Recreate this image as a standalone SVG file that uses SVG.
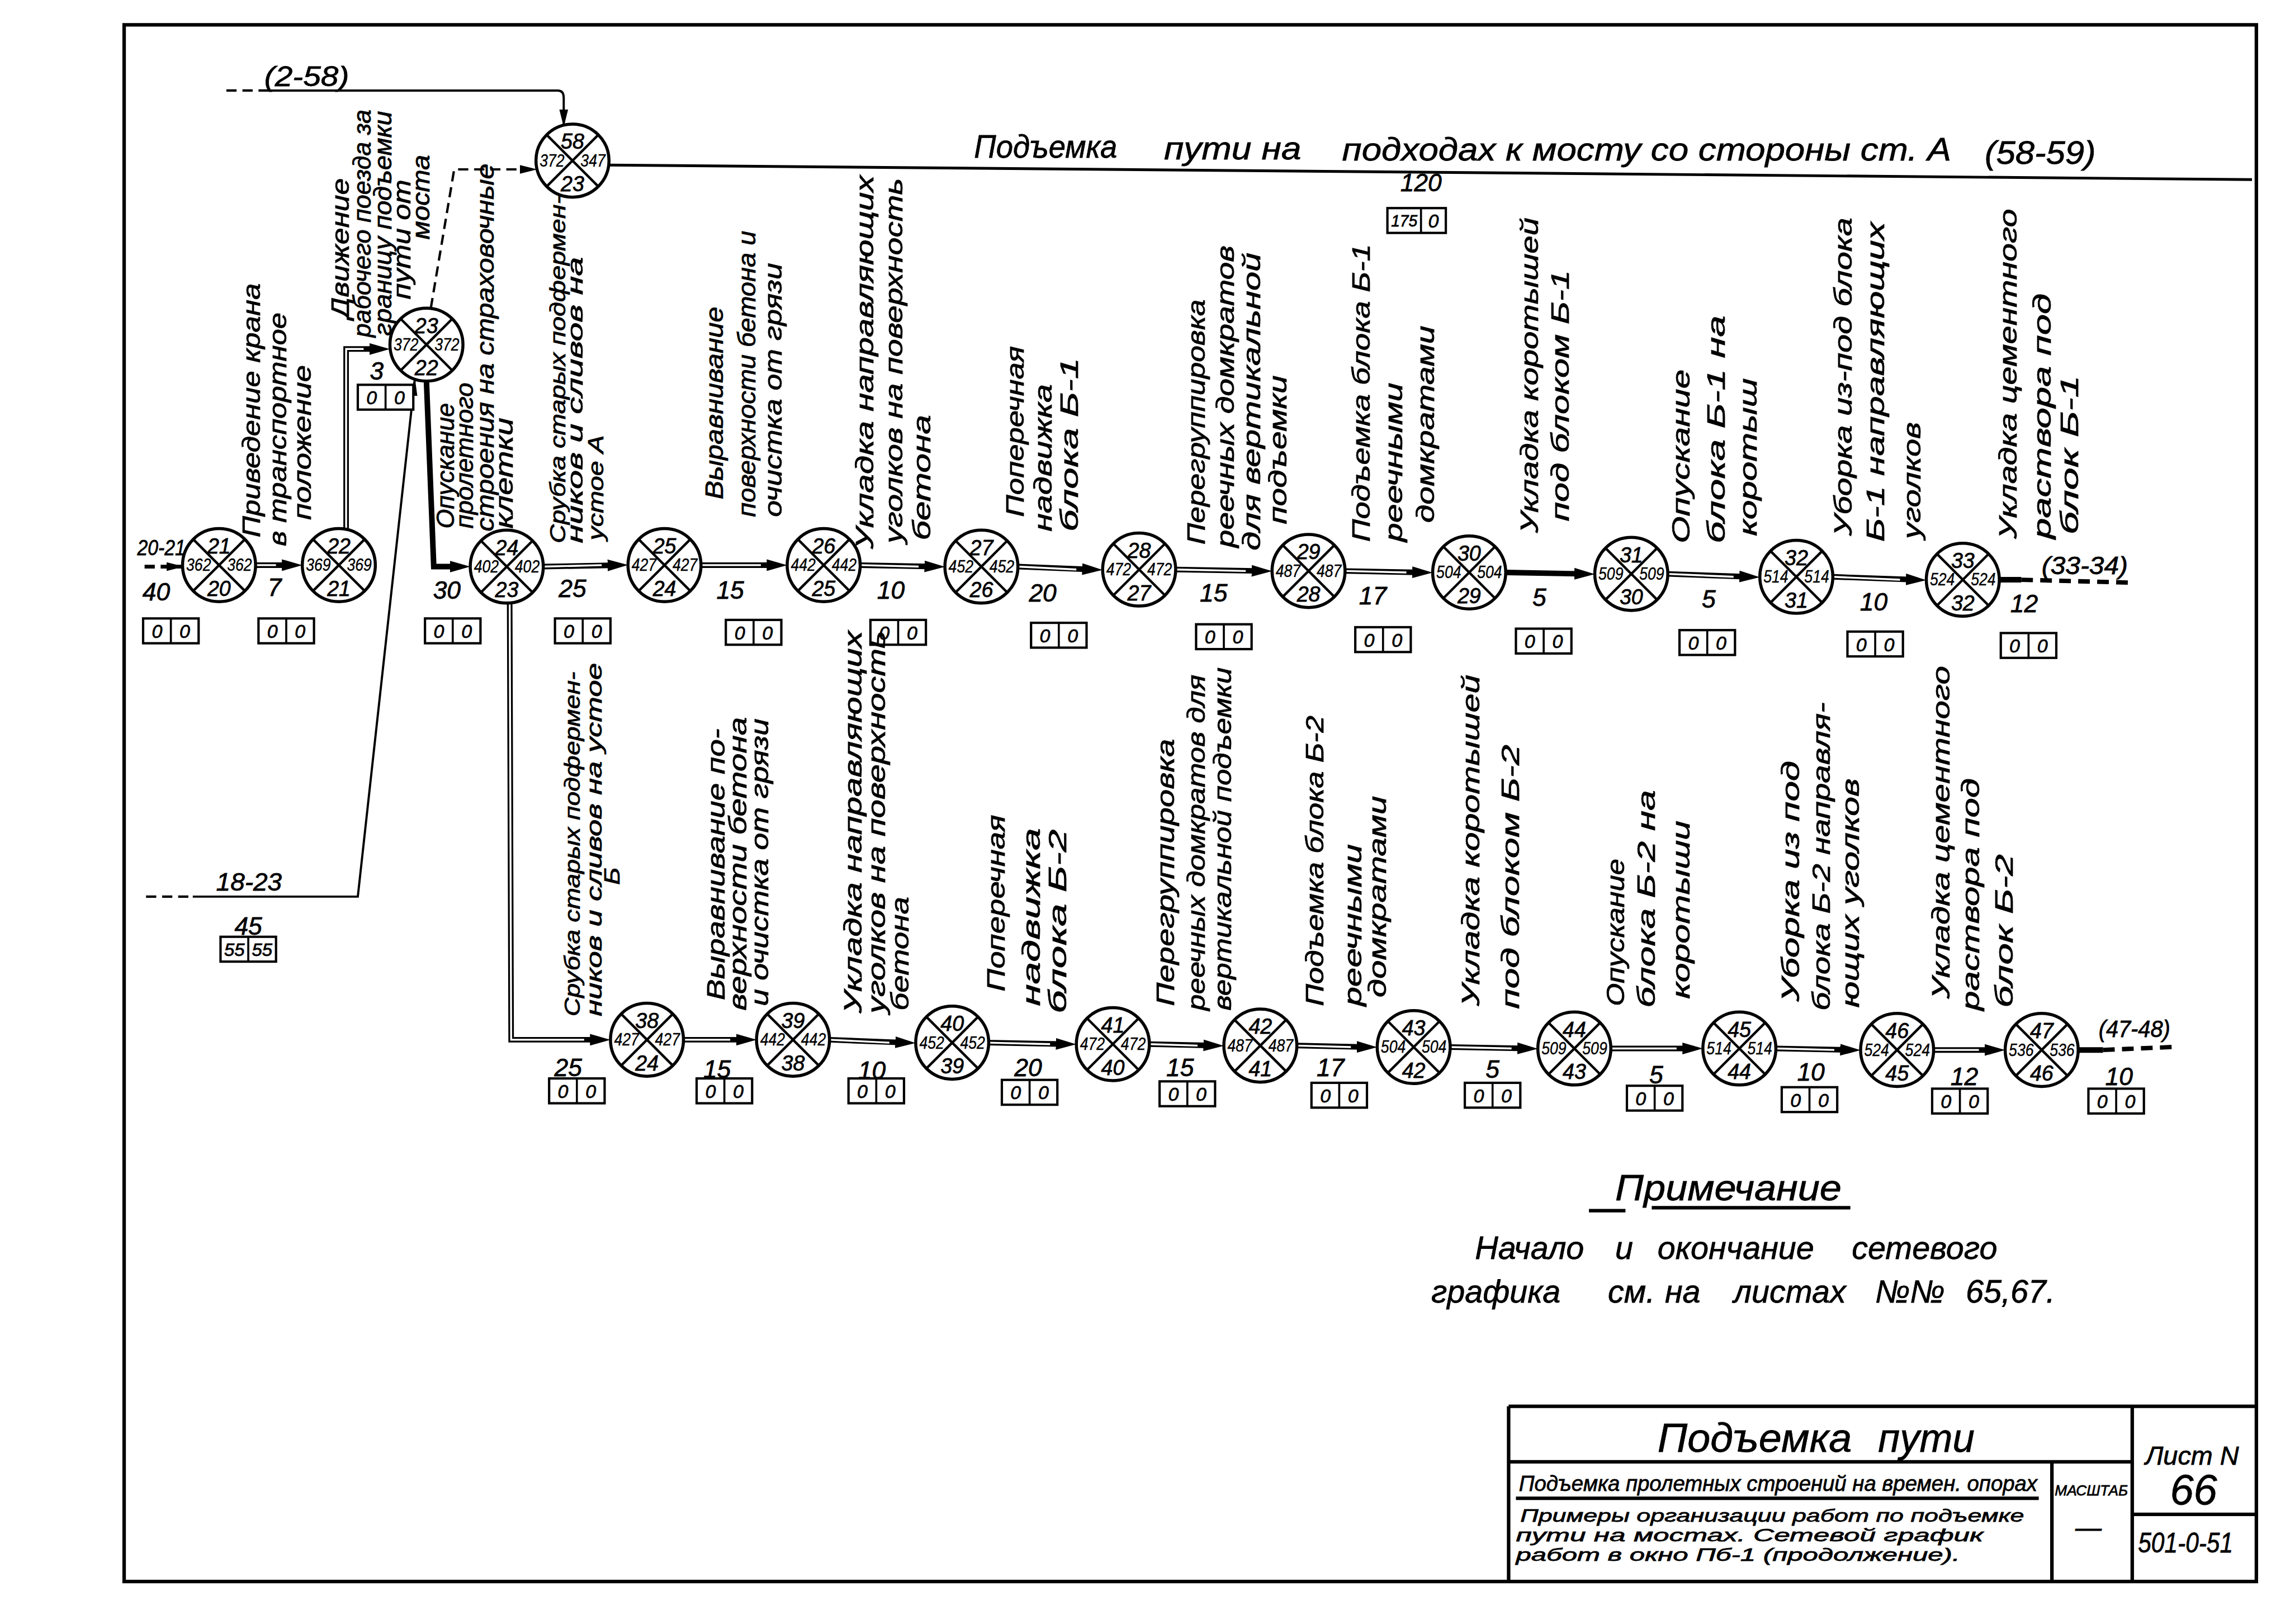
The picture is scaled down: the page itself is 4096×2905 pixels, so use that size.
<svg xmlns="http://www.w3.org/2000/svg" width="4096" height="2905" viewBox="0 0 4096 2905">
<defs>
<style>
.t{font-family:"Liberation Sans","DejaVu Sans",sans-serif;font-style:italic;fill:#000;stroke:#000;stroke-width:0.3}
.v{font-size:17px}
.v15{font-size:15px}
.n{font-size:15px;text-anchor:middle}
.ns{font-size:12px;text-anchor:middle;stroke-width:0.15}
.d{font-size:17px;text-anchor:middle}
.bx{font-size:13px;text-anchor:middle}
.node circle{fill:#fff;stroke:#000;stroke-width:2.1}
.node path{stroke:#000;stroke-width:1.7;fill:none}
.ln{fill:none;stroke:#000;stroke-width:1.5}
.lna{fill:none;stroke:#000;stroke-width:1.5;marker-end:url(#ahs)}
.dbl{fill:none;stroke:#000;stroke-width:3.8;marker-end:url(#ah)}
.dblw{fill:none;stroke:#fff;stroke-width:1.3}
.dash{fill:none;stroke:#000;stroke-width:1.6;stroke-dasharray:7 4}
.dasha{fill:none;stroke:#000;stroke-width:1.6;stroke-dasharray:7 4;marker-end:url(#ahs)}
.dashk{fill:none;stroke:#000;stroke-width:3;stroke-dasharray:8 5}
.box rect{fill:#fff;stroke:#000;stroke-width:1.6}
.box path{stroke:#000;stroke-width:1.4}
.frame{fill:none;stroke:#000;stroke-width:2.4}
</style>
<marker id="ah" markerUnits="userSpaceOnUse" viewBox="0 0 14 8" markerWidth="14" markerHeight="8" refX="7" refY="4" orient="auto"><path d="M0,0 L14,4 L0,8 Z" fill="#000"/></marker>
<marker id="ahs" markerUnits="userSpaceOnUse" viewBox="0 0 12 6" markerWidth="12" markerHeight="6" refX="11" refY="3" orient="auto"><path d="M0,0 L12,3 L0,6 Z" fill="#000"/></marker>
</defs>
<rect width="4096" height="2905" fill="#fff"/>
<g transform="scale(2.6122)">
<rect class="frame" x="85" y="17" width="1460" height="1066"/>

<g id="connectors">
<path class="dasha" d="M99,388 L125,388" style="stroke-width:2.6"/>
<path class="dbl" d="M175,387 L200,387"/><path class="dblw" d="M175,387 L189,387"/>
<path class="dbl" d="M237,363 L237,239 L260,239"/><path class="dblw" d="M237,363 L237,239 L249,239"/>
<path class="dbl" d="M292,261 L297,388 L315,388"/>
<path class="dash" d="M100,614 L132,614"/>
<path class="lna" d="M132,614 L245,614 L284,260"/>
<path class="dasha" d="M295,211 L311,116 L367,116"/>
<path class="dash" d="M155,62 L183,62"/>
<path class="lna" d="M183,62 L382,62 Q386,62 386,67 L386,86"/>
<path class="ln" d="M417,113 L1542,123" style="stroke-width:1.9"/>
<path class="dbl" d="M372,388 L423,387"/><path class="dblw" d="M372,388 L412,387"/>
<path class="dbl" d="M480,387 L532,387"/><path class="dblw" d="M480,387 L521,387"/>
<path class="dbl" d="M589,387 L640,388"/><path class="dblw" d="M589,387 L629,388"/>
<path class="dbl" d="M697,388 L748,390"/><path class="dblw" d="M697,388 L737,390"/>
<path class="dbl" d="M805,390 L864,391"/><path class="dblw" d="M805,390 L853,391"/>
<path class="dbl" d="M921,391 L974,392"/><path class="dblw" d="M921,391 L963,392"/>
<path class="dbl" d="M1031,392 L1085,393"/>
<path class="dbl" d="M1142,393 L1198,395"/><path class="dblw" d="M1142,393 L1187,395"/>
<path class="dbl" d="M1255,395 L1312,397"/><path class="dblw" d="M1255,395 L1301,397"/>
<path class="ln" d="M1369,397 L1384,397" style="stroke-width:3.8"/>
<path class="dashk" d="M1384,397 L1460,399"/>
<path class="dbl" d="M349,413 L350,712 L411,712"/><path class="dblw" d="M349,413 L350,712 L400,712"/>
<path class="dbl" d="M468,712 L511,712"/><path class="dblw" d="M468,712 L500,712"/>
<path class="dbl" d="M568,712 L620,714"/><path class="dblw" d="M568,712 L609,714"/>
<path class="dbl" d="M677,714 L730,715"/><path class="dblw" d="M677,714 L719,715"/>
<path class="dbl" d="M787,715 L831,716"/><path class="dblw" d="M787,715 L820,716"/>
<path class="dbl" d="M888,716 L936,717"/><path class="dblw" d="M888,716 L925,717"/>
<path class="dbl" d="M993,717 L1046,718"/><path class="dblw" d="M993,717 L1035,718"/>
<path class="dbl" d="M1103,718 L1159,718"/><path class="dblw" d="M1103,718 L1148,718"/>
<path class="dbl" d="M1216,718 L1267,719"/><path class="dblw" d="M1216,718 L1256,719"/>
<path class="dbl" d="M1324,719 L1366,719"/><path class="dblw" d="M1324,719 L1355,719"/>
<path class="ln" d="M1423,719 L1440,719" style="stroke-width:3.8"/>
<path class="dashk" d="M1440,719 L1487,717"/>
</g>

<g id="node-58" class="node"><circle cx="392" cy="110" r="25"/><path d="M374.3,92.3 L409.7,127.7 M409.7,92.3 L374.3,127.7"/><text class="t n" x="392" y="102" textLength="16" lengthAdjust="spacingAndGlyphs">58</text><text class="t n" x="392" y="131" textLength="16" lengthAdjust="spacingAndGlyphs">23</text><text class="t ns" x="378" y="114" textLength="17" lengthAdjust="spacingAndGlyphs">372</text><text class="t ns" x="406" y="114" textLength="17" lengthAdjust="spacingAndGlyphs">347</text></g>
<g id="node-21" class="node"><circle cx="150" cy="387" r="25"/><path d="M132.3,369.3 L167.7,404.7 M167.7,369.3 L132.3,404.7"/><text class="t n" x="150" y="379" textLength="16" lengthAdjust="spacingAndGlyphs">21</text><text class="t n" x="150" y="408" textLength="16" lengthAdjust="spacingAndGlyphs">20</text><text class="t ns" x="136" y="391" textLength="17" lengthAdjust="spacingAndGlyphs">362</text><text class="t ns" x="164" y="391" textLength="17" lengthAdjust="spacingAndGlyphs">362</text></g>
<g id="node-22" class="node"><circle cx="232" cy="387" r="25"/><path d="M214.3,369.3 L249.7,404.7 M249.7,369.3 L214.3,404.7"/><text class="t n" x="232" y="379" textLength="16" lengthAdjust="spacingAndGlyphs">22</text><text class="t n" x="232" y="408" textLength="16" lengthAdjust="spacingAndGlyphs">21</text><text class="t ns" x="218" y="391" textLength="17" lengthAdjust="spacingAndGlyphs">369</text><text class="t ns" x="246" y="391" textLength="17" lengthAdjust="spacingAndGlyphs">369</text></g>
<g id="node-23" class="node"><circle cx="292" cy="236" r="25"/><path d="M274.3,218.3 L309.7,253.7 M309.7,218.3 L274.3,253.7"/><text class="t n" x="292" y="228" textLength="16" lengthAdjust="spacingAndGlyphs">23</text><text class="t n" x="292" y="257" textLength="16" lengthAdjust="spacingAndGlyphs">22</text><text class="t ns" x="278" y="240" textLength="17" lengthAdjust="spacingAndGlyphs">372</text><text class="t ns" x="306" y="240" textLength="17" lengthAdjust="spacingAndGlyphs">372</text></g>
<g id="node-24" class="node"><circle cx="347" cy="388" r="25"/><path d="M329.3,370.3 L364.7,405.7 M364.7,370.3 L329.3,405.7"/><text class="t n" x="347" y="380" textLength="16" lengthAdjust="spacingAndGlyphs">24</text><text class="t n" x="347" y="409" textLength="16" lengthAdjust="spacingAndGlyphs">23</text><text class="t ns" x="333" y="392" textLength="17" lengthAdjust="spacingAndGlyphs">402</text><text class="t ns" x="361" y="392" textLength="17" lengthAdjust="spacingAndGlyphs">402</text></g>
<g id="node-25" class="node"><circle cx="455" cy="387" r="25"/><path d="M437.3,369.3 L472.7,404.7 M472.7,369.3 L437.3,404.7"/><text class="t n" x="455" y="379" textLength="16" lengthAdjust="spacingAndGlyphs">25</text><text class="t n" x="455" y="408" textLength="16" lengthAdjust="spacingAndGlyphs">24</text><text class="t ns" x="441" y="391" textLength="17" lengthAdjust="spacingAndGlyphs">427</text><text class="t ns" x="469" y="391" textLength="17" lengthAdjust="spacingAndGlyphs">427</text></g>
<g id="node-26" class="node"><circle cx="564" cy="387" r="25"/><path d="M546.3,369.3 L581.7,404.7 M581.7,369.3 L546.3,404.7"/><text class="t n" x="564" y="379" textLength="16" lengthAdjust="spacingAndGlyphs">26</text><text class="t n" x="564" y="408" textLength="16" lengthAdjust="spacingAndGlyphs">25</text><text class="t ns" x="550" y="391" textLength="17" lengthAdjust="spacingAndGlyphs">442</text><text class="t ns" x="578" y="391" textLength="17" lengthAdjust="spacingAndGlyphs">442</text></g>
<g id="node-27" class="node"><circle cx="672" cy="388" r="25"/><path d="M654.3,370.3 L689.7,405.7 M689.7,370.3 L654.3,405.7"/><text class="t n" x="672" y="380" textLength="16" lengthAdjust="spacingAndGlyphs">27</text><text class="t n" x="672" y="409" textLength="16" lengthAdjust="spacingAndGlyphs">26</text><text class="t ns" x="658" y="392" textLength="17" lengthAdjust="spacingAndGlyphs">452</text><text class="t ns" x="686" y="392" textLength="17" lengthAdjust="spacingAndGlyphs">452</text></g>
<g id="node-28" class="node"><circle cx="780" cy="390" r="25"/><path d="M762.3,372.3 L797.7,407.7 M797.7,372.3 L762.3,407.7"/><text class="t n" x="780" y="382" textLength="16" lengthAdjust="spacingAndGlyphs">28</text><text class="t n" x="780" y="411" textLength="16" lengthAdjust="spacingAndGlyphs">27</text><text class="t ns" x="766" y="394" textLength="17" lengthAdjust="spacingAndGlyphs">472</text><text class="t ns" x="794" y="394" textLength="17" lengthAdjust="spacingAndGlyphs">472</text></g>
<g id="node-29" class="node"><circle cx="896" cy="391" r="25"/><path d="M878.3,373.3 L913.7,408.7 M913.7,373.3 L878.3,408.7"/><text class="t n" x="896" y="383" textLength="16" lengthAdjust="spacingAndGlyphs">29</text><text class="t n" x="896" y="412" textLength="16" lengthAdjust="spacingAndGlyphs">28</text><text class="t ns" x="882" y="395" textLength="17" lengthAdjust="spacingAndGlyphs">487</text><text class="t ns" x="910" y="395" textLength="17" lengthAdjust="spacingAndGlyphs">487</text></g>
<g id="node-30" class="node"><circle cx="1006" cy="392" r="25"/><path d="M988.3,374.3 L1023.7,409.7 M1023.7,374.3 L988.3,409.7"/><text class="t n" x="1006" y="384" textLength="16" lengthAdjust="spacingAndGlyphs">30</text><text class="t n" x="1006" y="413" textLength="16" lengthAdjust="spacingAndGlyphs">29</text><text class="t ns" x="992" y="396" textLength="17" lengthAdjust="spacingAndGlyphs">504</text><text class="t ns" x="1020" y="396" textLength="17" lengthAdjust="spacingAndGlyphs">504</text></g>
<g id="node-31" class="node"><circle cx="1117" cy="393" r="25"/><path d="M1099.3,375.3 L1134.7,410.7 M1134.7,375.3 L1099.3,410.7"/><text class="t n" x="1117" y="385" textLength="16" lengthAdjust="spacingAndGlyphs">31</text><text class="t n" x="1117" y="414" textLength="16" lengthAdjust="spacingAndGlyphs">30</text><text class="t ns" x="1103" y="397" textLength="17" lengthAdjust="spacingAndGlyphs">509</text><text class="t ns" x="1131" y="397" textLength="17" lengthAdjust="spacingAndGlyphs">509</text></g>
<g id="node-32" class="node"><circle cx="1230" cy="395" r="25"/><path d="M1212.3,377.3 L1247.7,412.7 M1247.7,377.3 L1212.3,412.7"/><text class="t n" x="1230" y="387" textLength="16" lengthAdjust="spacingAndGlyphs">32</text><text class="t n" x="1230" y="416" textLength="16" lengthAdjust="spacingAndGlyphs">31</text><text class="t ns" x="1216" y="399" textLength="17" lengthAdjust="spacingAndGlyphs">514</text><text class="t ns" x="1244" y="399" textLength="17" lengthAdjust="spacingAndGlyphs">514</text></g>
<g id="node-33" class="node"><circle cx="1344" cy="397" r="25"/><path d="M1326.3,379.3 L1361.7,414.7 M1361.7,379.3 L1326.3,414.7"/><text class="t n" x="1344" y="389" textLength="16" lengthAdjust="spacingAndGlyphs">33</text><text class="t n" x="1344" y="418" textLength="16" lengthAdjust="spacingAndGlyphs">32</text><text class="t ns" x="1330" y="401" textLength="17" lengthAdjust="spacingAndGlyphs">524</text><text class="t ns" x="1358" y="401" textLength="17" lengthAdjust="spacingAndGlyphs">524</text></g>
<g id="node-38" class="node"><circle cx="443" cy="712" r="25"/><path d="M425.3,694.3 L460.7,729.7 M460.7,694.3 L425.3,729.7"/><text class="t n" x="443" y="704" textLength="16" lengthAdjust="spacingAndGlyphs">38</text><text class="t n" x="443" y="733" textLength="16" lengthAdjust="spacingAndGlyphs">24</text><text class="t ns" x="429" y="716" textLength="17" lengthAdjust="spacingAndGlyphs">427</text><text class="t ns" x="457" y="716" textLength="17" lengthAdjust="spacingAndGlyphs">427</text></g>
<g id="node-39" class="node"><circle cx="543" cy="712" r="25"/><path d="M525.3,694.3 L560.7,729.7 M560.7,694.3 L525.3,729.7"/><text class="t n" x="543" y="704" textLength="16" lengthAdjust="spacingAndGlyphs">39</text><text class="t n" x="543" y="733" textLength="16" lengthAdjust="spacingAndGlyphs">38</text><text class="t ns" x="529" y="716" textLength="17" lengthAdjust="spacingAndGlyphs">442</text><text class="t ns" x="557" y="716" textLength="17" lengthAdjust="spacingAndGlyphs">442</text></g>
<g id="node-40" class="node"><circle cx="652" cy="714" r="25"/><path d="M634.3,696.3 L669.7,731.7 M669.7,696.3 L634.3,731.7"/><text class="t n" x="652" y="706" textLength="16" lengthAdjust="spacingAndGlyphs">40</text><text class="t n" x="652" y="735" textLength="16" lengthAdjust="spacingAndGlyphs">39</text><text class="t ns" x="638" y="718" textLength="17" lengthAdjust="spacingAndGlyphs">452</text><text class="t ns" x="666" y="718" textLength="17" lengthAdjust="spacingAndGlyphs">452</text></g>
<g id="node-41" class="node"><circle cx="762" cy="715" r="25"/><path d="M744.3,697.3 L779.7,732.7 M779.7,697.3 L744.3,732.7"/><text class="t n" x="762" y="707" textLength="16" lengthAdjust="spacingAndGlyphs">41</text><text class="t n" x="762" y="736" textLength="16" lengthAdjust="spacingAndGlyphs">40</text><text class="t ns" x="748" y="719" textLength="17" lengthAdjust="spacingAndGlyphs">472</text><text class="t ns" x="776" y="719" textLength="17" lengthAdjust="spacingAndGlyphs">472</text></g>
<g id="node-42" class="node"><circle cx="863" cy="716" r="25"/><path d="M845.3,698.3 L880.7,733.7 M880.7,698.3 L845.3,733.7"/><text class="t n" x="863" y="708" textLength="16" lengthAdjust="spacingAndGlyphs">42</text><text class="t n" x="863" y="737" textLength="16" lengthAdjust="spacingAndGlyphs">41</text><text class="t ns" x="849" y="720" textLength="17" lengthAdjust="spacingAndGlyphs">487</text><text class="t ns" x="877" y="720" textLength="17" lengthAdjust="spacingAndGlyphs">487</text></g>
<g id="node-43" class="node"><circle cx="968" cy="717" r="25"/><path d="M950.3,699.3 L985.7,734.7 M985.7,699.3 L950.3,734.7"/><text class="t n" x="968" y="709" textLength="16" lengthAdjust="spacingAndGlyphs">43</text><text class="t n" x="968" y="738" textLength="16" lengthAdjust="spacingAndGlyphs">42</text><text class="t ns" x="954" y="721" textLength="17" lengthAdjust="spacingAndGlyphs">504</text><text class="t ns" x="982" y="721" textLength="17" lengthAdjust="spacingAndGlyphs">504</text></g>
<g id="node-44" class="node"><circle cx="1078" cy="718" r="25"/><path d="M1060.3,700.3 L1095.7,735.7 M1095.7,700.3 L1060.3,735.7"/><text class="t n" x="1078" y="710" textLength="16" lengthAdjust="spacingAndGlyphs">44</text><text class="t n" x="1078" y="739" textLength="16" lengthAdjust="spacingAndGlyphs">43</text><text class="t ns" x="1064" y="722" textLength="17" lengthAdjust="spacingAndGlyphs">509</text><text class="t ns" x="1092" y="722" textLength="17" lengthAdjust="spacingAndGlyphs">509</text></g>
<g id="node-45" class="node"><circle cx="1191" cy="718" r="25"/><path d="M1173.3,700.3 L1208.7,735.7 M1208.7,700.3 L1173.3,735.7"/><text class="t n" x="1191" y="710" textLength="16" lengthAdjust="spacingAndGlyphs">45</text><text class="t n" x="1191" y="739" textLength="16" lengthAdjust="spacingAndGlyphs">44</text><text class="t ns" x="1177" y="722" textLength="17" lengthAdjust="spacingAndGlyphs">514</text><text class="t ns" x="1205" y="722" textLength="17" lengthAdjust="spacingAndGlyphs">514</text></g>
<g id="node-46" class="node"><circle cx="1299" cy="719" r="25"/><path d="M1281.3,701.3 L1316.7,736.7 M1316.7,701.3 L1281.3,736.7"/><text class="t n" x="1299" y="711" textLength="16" lengthAdjust="spacingAndGlyphs">46</text><text class="t n" x="1299" y="740" textLength="16" lengthAdjust="spacingAndGlyphs">45</text><text class="t ns" x="1285" y="723" textLength="17" lengthAdjust="spacingAndGlyphs">524</text><text class="t ns" x="1313" y="723" textLength="17" lengthAdjust="spacingAndGlyphs">524</text></g>
<g id="node-47" class="node"><circle cx="1398" cy="719" r="25"/><path d="M1380.3,701.3 L1415.7,736.7 M1415.7,701.3 L1380.3,736.7"/><text class="t n" x="1398" y="711" textLength="16" lengthAdjust="spacingAndGlyphs">47</text><text class="t n" x="1398" y="740" textLength="16" lengthAdjust="spacingAndGlyphs">46</text><text class="t ns" x="1384" y="723" textLength="17" lengthAdjust="spacingAndGlyphs">536</text><text class="t ns" x="1412" y="723" textLength="17" lengthAdjust="spacingAndGlyphs">536</text></g>

<g id="edge-labels">
<text class="t" x="94" y="380" style="font-size:15px" textLength="33" lengthAdjust="spacingAndGlyphs">20-21</text>
<text class="t" x="181" y="59" style="font-size:19px" textLength="58" lengthAdjust="spacingAndGlyphs">(2-58)</text>
<text class="t" x="148" y="610" style="font-size:17px" textLength="45" lengthAdjust="spacingAndGlyphs">18-23</text>
<text class="t" x="1398" y="393" style="font-size:17px" textLength="59" lengthAdjust="spacingAndGlyphs">(33-34)</text>
<text class="t" x="1437" y="710" style="font-size:16px" textLength="49" lengthAdjust="spacingAndGlyphs">(47-48)</text>
<text class="t" x="667" y="108" style="font-size:22px" textLength="98" lengthAdjust="spacingAndGlyphs">Подъемка</text>
<text class="t" x="797" y="109" style="font-size:22px" textLength="94" lengthAdjust="spacingAndGlyphs">пути на</text>
<text class="t" x="919" y="110" style="font-size:22px" textLength="417" lengthAdjust="spacingAndGlyphs">подходах к мосту со стороны ст. А</text>
<text class="t" x="1359" y="112" style="font-size:22px" textLength="76" lengthAdjust="spacingAndGlyphs">(58-59)</text>
<text class="t d" x="107" y="411">40</text>
<text class="t d" x="188" y="408">7</text>
<text class="t d" x="258" y="260">3</text>
<text class="t d" x="306" y="410">30</text>
<text class="t d" x="392" y="409">25</text>
<text class="t d" x="500" y="410">15</text>
<text class="t d" x="610" y="410">10</text>
<text class="t d" x="714" y="412">20</text>
<text class="t d" x="831" y="412">15</text>
<text class="t d" x="940" y="414">17</text>
<text class="t d" x="1054" y="415">5</text>
<text class="t d" x="1170" y="416">5</text>
<text class="t d" x="1283" y="418">10</text>
<text class="t d" x="1386" y="419">12</text>
<text class="t d" x="973" y="131">120</text>
<text class="t d" x="170" y="640">45</text>
<text class="t d" x="389" y="737">25</text>
<text class="t d" x="491" y="738">15</text>
<text class="t d" x="597" y="739">10</text>
<text class="t d" x="704" y="737">20</text>
<text class="t d" x="808" y="737">15</text>
<text class="t d" x="911" y="737">17</text>
<text class="t d" x="1022" y="738">5</text>
<text class="t d" x="1134" y="742">5</text>
<text class="t d" x="1240" y="740">10</text>
<text class="t d" x="1345" y="743">12</text>
<text class="t d" x="1451" y="743">10</text>
</g>

<g id="boxes">
<g class="box" transform="translate(117,432)"><rect x="-19" y="-8.5" width="38" height="17"/><path d="M0,-8.5 V8.5"/><text class="t bx" x="-9.5" y="4.8">0</text><text class="t bx" x="9.5" y="4.8">0</text></g>
<g class="box" transform="translate(196,432)"><rect x="-19" y="-8.5" width="38" height="17"/><path d="M0,-8.5 V8.5"/><text class="t bx" x="-9.5" y="4.8">0</text><text class="t bx" x="9.5" y="4.8">0</text></g>
<g class="box" transform="translate(264,272)"><rect x="-19" y="-8.5" width="38" height="17"/><path d="M0,-8.5 V8.5"/><text class="t bx" x="-9.5" y="4.8">0</text><text class="t bx" x="9.5" y="4.8">0</text></g>
<g class="box" transform="translate(310,432)"><rect x="-19" y="-8.5" width="38" height="17"/><path d="M0,-8.5 V8.5"/><text class="t bx" x="-9.5" y="4.8">0</text><text class="t bx" x="9.5" y="4.8">0</text></g>
<g class="box" transform="translate(399,432)"><rect x="-19" y="-8.5" width="38" height="17"/><path d="M0,-8.5 V8.5"/><text class="t bx" x="-9.5" y="4.8">0</text><text class="t bx" x="9.5" y="4.8">0</text></g>
<g class="box" transform="translate(516,433)"><rect x="-19" y="-8.5" width="38" height="17"/><path d="M0,-8.5 V8.5"/><text class="t bx" x="-9.5" y="4.8">0</text><text class="t bx" x="9.5" y="4.8">0</text></g>
<g class="box" transform="translate(615,433)"><rect x="-19" y="-8.5" width="38" height="17"/><path d="M0,-8.5 V8.5"/><text class="t bx" x="-9.5" y="4.8">0</text><text class="t bx" x="9.5" y="4.8">0</text></g>
<g class="box" transform="translate(725,435)"><rect x="-19" y="-8.5" width="38" height="17"/><path d="M0,-8.5 V8.5"/><text class="t bx" x="-9.5" y="4.8">0</text><text class="t bx" x="9.5" y="4.8">0</text></g>
<g class="box" transform="translate(838,436)"><rect x="-19" y="-8.5" width="38" height="17"/><path d="M0,-8.5 V8.5"/><text class="t bx" x="-9.5" y="4.8">0</text><text class="t bx" x="9.5" y="4.8">0</text></g>
<g class="box" transform="translate(947,438)"><rect x="-19" y="-8.5" width="38" height="17"/><path d="M0,-8.5 V8.5"/><text class="t bx" x="-9.5" y="4.8">0</text><text class="t bx" x="9.5" y="4.8">0</text></g>
<g class="box" transform="translate(1057,439)"><rect x="-19" y="-8.5" width="38" height="17"/><path d="M0,-8.5 V8.5"/><text class="t bx" x="-9.5" y="4.8">0</text><text class="t bx" x="9.5" y="4.8">0</text></g>
<g class="box" transform="translate(1169,440)"><rect x="-19" y="-8.5" width="38" height="17"/><path d="M0,-8.5 V8.5"/><text class="t bx" x="-9.5" y="4.8">0</text><text class="t bx" x="9.5" y="4.8">0</text></g>
<g class="box" transform="translate(1284,441)"><rect x="-19" y="-8.5" width="38" height="17"/><path d="M0,-8.5 V8.5"/><text class="t bx" x="-9.5" y="4.8">0</text><text class="t bx" x="9.5" y="4.8">0</text></g>
<g class="box" transform="translate(1389,442)"><rect x="-19" y="-8.5" width="38" height="17"/><path d="M0,-8.5 V8.5"/><text class="t bx" x="-9.5" y="4.8">0</text><text class="t bx" x="9.5" y="4.8">0</text></g>
<g class="box" transform="translate(970,151)"><rect x="-20" y="-8.5" width="40" height="17"/><path d="M3,-8.5 V8.5"/><text class="t bx" x="-8.5" y="4" style="font-size:11px" textLength="18" lengthAdjust="spacingAndGlyphs">175</text><text class="t bx" x="11.5" y="4.8">0</text></g>
<g class="box" transform="translate(170,650)"><rect x="-19" y="-8.5" width="38" height="17"/><path d="M0,-8.5 V8.5"/><text class="t bx" x="-9.5" y="4.5" style="font-size:12px" textLength="14" lengthAdjust="spacingAndGlyphs">55</text><text class="t bx" x="9.5" y="4.5" style="font-size:12px" textLength="14" lengthAdjust="spacingAndGlyphs">55</text></g>
<g class="box" transform="translate(395,747)"><rect x="-19" y="-8.5" width="38" height="17"/><path d="M0,-8.5 V8.5"/><text class="t bx" x="-9.5" y="4.8">0</text><text class="t bx" x="9.5" y="4.8">0</text></g>
<g class="box" transform="translate(496,747)"><rect x="-19" y="-8.5" width="38" height="17"/><path d="M0,-8.5 V8.5"/><text class="t bx" x="-9.5" y="4.8">0</text><text class="t bx" x="9.5" y="4.8">0</text></g>
<g class="box" transform="translate(600,747)"><rect x="-19" y="-8.5" width="38" height="17"/><path d="M0,-8.5 V8.5"/><text class="t bx" x="-9.5" y="4.8">0</text><text class="t bx" x="9.5" y="4.8">0</text></g>
<g class="box" transform="translate(705,748)"><rect x="-19" y="-8.5" width="38" height="17"/><path d="M0,-8.5 V8.5"/><text class="t bx" x="-9.5" y="4.8">0</text><text class="t bx" x="9.5" y="4.8">0</text></g>
<g class="box" transform="translate(813,749)"><rect x="-19" y="-8.5" width="38" height="17"/><path d="M0,-8.5 V8.5"/><text class="t bx" x="-9.5" y="4.8">0</text><text class="t bx" x="9.5" y="4.8">0</text></g>
<g class="box" transform="translate(917,750)"><rect x="-19" y="-8.5" width="38" height="17"/><path d="M0,-8.5 V8.5"/><text class="t bx" x="-9.5" y="4.8">0</text><text class="t bx" x="9.5" y="4.8">0</text></g>
<g class="box" transform="translate(1022,750)"><rect x="-19" y="-8.5" width="38" height="17"/><path d="M0,-8.5 V8.5"/><text class="t bx" x="-9.5" y="4.8">0</text><text class="t bx" x="9.5" y="4.8">0</text></g>
<g class="box" transform="translate(1133,752)"><rect x="-19" y="-8.5" width="38" height="17"/><path d="M0,-8.5 V8.5"/><text class="t bx" x="-9.5" y="4.8">0</text><text class="t bx" x="9.5" y="4.8">0</text></g>
<g class="box" transform="translate(1239,753)"><rect x="-19" y="-8.5" width="38" height="17"/><path d="M0,-8.5 V8.5"/><text class="t bx" x="-9.5" y="4.8">0</text><text class="t bx" x="9.5" y="4.8">0</text></g>
<g class="box" transform="translate(1342,754)"><rect x="-19" y="-8.5" width="38" height="17"/><path d="M0,-8.5 V8.5"/><text class="t bx" x="-9.5" y="4.8">0</text><text class="t bx" x="9.5" y="4.8">0</text></g>
<g class="box" transform="translate(1449,754)"><rect x="-19" y="-8.5" width="38" height="17"/><path d="M0,-8.5 V8.5"/><text class="t bx" x="-9.5" y="4.8">0</text><text class="t bx" x="9.5" y="4.8">0</text></g>
</g>

<g id="activity-labels">
<text class="t v" transform="translate(178,368) rotate(-90)" textLength="174" lengthAdjust="spacingAndGlyphs">Приведение крана</text>
<text class="t v" transform="translate(196,374) rotate(-90)" textLength="160" lengthAdjust="spacingAndGlyphs">в транспортное</text>
<text class="t v" transform="translate(213,356) rotate(-90)" textLength="106" lengthAdjust="spacingAndGlyphs">положение</text>
<text class="t v" transform="translate(239,218) rotate(-90)" textLength="96" lengthAdjust="spacingAndGlyphs">Движение</text>
<text class="t v" transform="translate(254,231) rotate(-90)" textLength="156" lengthAdjust="spacingAndGlyphs">рабочего поезда за</text>
<text class="t v" transform="translate(268,230) rotate(-90)" textLength="154" lengthAdjust="spacingAndGlyphs">границу подъемки</text>
<text class="t v" transform="translate(281,205) rotate(-90)" textLength="82" lengthAdjust="spacingAndGlyphs">пути от</text>
<text class="t v" transform="translate(294,164) rotate(-90)" textLength="58" lengthAdjust="spacingAndGlyphs">моста</text>
<text class="t v" transform="translate(311,362) rotate(-90)" textLength="86" lengthAdjust="spacingAndGlyphs">Опускание</text>
<text class="t v" transform="translate(324,362) rotate(-90)" textLength="100" lengthAdjust="spacingAndGlyphs">пролетного</text>
<text class="t v" transform="translate(338,364) rotate(-90)" textLength="252" lengthAdjust="spacingAndGlyphs">строения на страховочные</text>
<text class="t v" transform="translate(351,362) rotate(-90)" textLength="76" lengthAdjust="spacingAndGlyphs">клетки</text>
<text class="t v15" transform="translate(387,372) rotate(-90)" textLength="238" lengthAdjust="spacingAndGlyphs">Срубка старых подфермен-</text>
<text class="t v15" transform="translate(399,372) rotate(-90)" textLength="196" lengthAdjust="spacingAndGlyphs">ников и сливов на</text>
<text class="t v15" transform="translate(413,370) rotate(-90)" textLength="72" lengthAdjust="spacingAndGlyphs">устое А</text>
<text class="t v" transform="translate(495,342) rotate(-90)" textLength="132" lengthAdjust="spacingAndGlyphs">Выравнивание</text>
<text class="t v" transform="translate(517,354) rotate(-90)" textLength="196" lengthAdjust="spacingAndGlyphs">поверхности бетона и</text>
<text class="t v" transform="translate(535,354) rotate(-90)" textLength="174" lengthAdjust="spacingAndGlyphs">очистка от грязи</text>
<text class="t v" transform="translate(598,376) rotate(-90)" textLength="256" lengthAdjust="spacingAndGlyphs">Укладка направляющих</text>
<text class="t v" transform="translate(618,372) rotate(-90)" textLength="250" lengthAdjust="spacingAndGlyphs">уголков на поверхность</text>
<text class="t v" transform="translate(637,370) rotate(-90)" textLength="86" lengthAdjust="spacingAndGlyphs">бетона</text>
<text class="t v" transform="translate(701,354) rotate(-90)" textLength="117" lengthAdjust="spacingAndGlyphs">Поперечная</text>
<text class="t v" transform="translate(720,364) rotate(-90)" textLength="101" lengthAdjust="spacingAndGlyphs">надвижка</text>
<text class="t v" transform="translate(738,364) rotate(-90)" textLength="119" lengthAdjust="spacingAndGlyphs">блока Б-1</text>
<text class="t v" transform="translate(825,373) rotate(-90)" textLength="168" lengthAdjust="spacingAndGlyphs">Перегруппировка</text>
<text class="t v" transform="translate(845,375) rotate(-90)" textLength="207" lengthAdjust="spacingAndGlyphs">реечных домкратов</text>
<text class="t v" transform="translate(863,377) rotate(-90)" textLength="204" lengthAdjust="spacingAndGlyphs">для вертикальной</text>
<text class="t v" transform="translate(881,359) rotate(-90)" textLength="102" lengthAdjust="spacingAndGlyphs">подъемки</text>
<text class="t v" transform="translate(938,371) rotate(-90)" textLength="204" lengthAdjust="spacingAndGlyphs">Подъемка блока Б-1</text>
<text class="t v" transform="translate(960,371) rotate(-90)" textLength="109" lengthAdjust="spacingAndGlyphs">реечными</text>
<text class="t v" transform="translate(982,358) rotate(-90)" textLength="135" lengthAdjust="spacingAndGlyphs">домкратами</text>
<text class="t v" transform="translate(1053,365) rotate(-90)" textLength="216" lengthAdjust="spacingAndGlyphs">Укладка коротышей</text>
<text class="t v" transform="translate(1074,357) rotate(-90)" textLength="172" lengthAdjust="spacingAndGlyphs">под блоком Б-1</text>
<text class="t v" transform="translate(1157,372) rotate(-90)" textLength="119" lengthAdjust="spacingAndGlyphs">Опускание</text>
<text class="t v" transform="translate(1181,372) rotate(-90)" textLength="156" lengthAdjust="spacingAndGlyphs">блока Б-1 на</text>
<text class="t v" transform="translate(1203,367) rotate(-90)" textLength="108" lengthAdjust="spacingAndGlyphs">коротыш</text>
<text class="t v" transform="translate(1268,367) rotate(-90)" textLength="218" lengthAdjust="spacingAndGlyphs">Уборка из-под блока</text>
<text class="t v" transform="translate(1290,371) rotate(-90)" textLength="219" lengthAdjust="spacingAndGlyphs">Б-1 направляющих</text>
<text class="t v" transform="translate(1315,369) rotate(-90)" textLength="80" lengthAdjust="spacingAndGlyphs">уголков</text>
<text class="t v" transform="translate(1381,369) rotate(-90)" textLength="226" lengthAdjust="spacingAndGlyphs">Укладка цементного</text>
<text class="t v" transform="translate(1404,369) rotate(-90)" textLength="168" lengthAdjust="spacingAndGlyphs">раствора под</text>
<text class="t v" transform="translate(1423,366) rotate(-90)" textLength="109" lengthAdjust="spacingAndGlyphs">блок Б-1</text>

<text class="t v15" transform="translate(397,696) rotate(-90)" textLength="236" lengthAdjust="spacingAndGlyphs">Срубка старых подфермен-</text>
<text class="t v15" transform="translate(412,696) rotate(-90)" textLength="242" lengthAdjust="spacingAndGlyphs">ников и сливов на устое</text>
<text class="t v15" transform="translate(424,606) rotate(-90)" textLength="12" lengthAdjust="spacingAndGlyphs">Б</text>
<text class="t v" transform="translate(496,685) rotate(-90)" textLength="186" lengthAdjust="spacingAndGlyphs">Выравнивание по-</text>
<text class="t v" transform="translate(511,692) rotate(-90)" textLength="201" lengthAdjust="spacingAndGlyphs">верхности бетона</text>
<text class="t v" transform="translate(526,689) rotate(-90)" textLength="197" lengthAdjust="spacingAndGlyphs">и очистка от грязи</text>
<text class="t v" transform="translate(590,694) rotate(-90)" textLength="262" lengthAdjust="spacingAndGlyphs">Укладка направляющих</text>
<text class="t v" transform="translate(606,694) rotate(-90)" textLength="262" lengthAdjust="spacingAndGlyphs">уголков на поверхность</text>
<text class="t v" transform="translate(622,692) rotate(-90)" textLength="78" lengthAdjust="spacingAndGlyphs">бетона</text>
<text class="t v" transform="translate(688,679) rotate(-90)" textLength="121" lengthAdjust="spacingAndGlyphs">Поперечная</text>
<text class="t v" transform="translate(712,689) rotate(-90)" textLength="122" lengthAdjust="spacingAndGlyphs">надвижка</text>
<text class="t v" transform="translate(730,694) rotate(-90)" textLength="126" lengthAdjust="spacingAndGlyphs">блока Б-2</text>
<text class="t v" transform="translate(804,689) rotate(-90)" textLength="183" lengthAdjust="spacingAndGlyphs">Перегруппировка</text>
<text class="t v" transform="translate(825,692) rotate(-90)" textLength="230" lengthAdjust="spacingAndGlyphs">реечных домкратов для</text>
<text class="t v" transform="translate(843,692) rotate(-90)" textLength="235" lengthAdjust="spacingAndGlyphs">вертикальной подъемки</text>
<text class="t v" transform="translate(906,689) rotate(-90)" textLength="199" lengthAdjust="spacingAndGlyphs">Подъемка блока Б-2</text>
<text class="t v" transform="translate(932,689) rotate(-90)" textLength="111" lengthAdjust="spacingAndGlyphs">реечными</text>
<text class="t v" transform="translate(949,683) rotate(-90)" textLength="138" lengthAdjust="spacingAndGlyphs">домкратами</text>
<text class="t v" transform="translate(1013,689) rotate(-90)" textLength="227" lengthAdjust="spacingAndGlyphs">Укладка коротышей</text>
<text class="t v" transform="translate(1040,691) rotate(-90)" textLength="181" lengthAdjust="spacingAndGlyphs">под блоком Б-2</text>
<text class="t v" transform="translate(1112,689) rotate(-90)" textLength="101" lengthAdjust="spacingAndGlyphs">Опускание</text>
<text class="t v" transform="translate(1133,690) rotate(-90)" textLength="149" lengthAdjust="spacingAndGlyphs">блока Б-2 на</text>
<text class="t v" transform="translate(1157,684) rotate(-90)" textLength="122" lengthAdjust="spacingAndGlyphs">коротыши</text>
<text class="t v" transform="translate(1232,686) rotate(-90)" textLength="165" lengthAdjust="spacingAndGlyphs">Уборка из под</text>
<text class="t v" transform="translate(1253,692) rotate(-90)" textLength="211" lengthAdjust="spacingAndGlyphs">блока Б-2 направля-</text>
<text class="t v" transform="translate(1273,690) rotate(-90)" textLength="157" lengthAdjust="spacingAndGlyphs">ющих уголков</text>
<text class="t v" transform="translate(1335,684) rotate(-90)" textLength="228" lengthAdjust="spacingAndGlyphs">Укладка цементного</text>
<text class="t v" transform="translate(1355,692) rotate(-90)" textLength="159" lengthAdjust="spacingAndGlyphs">раствора под</text>
<text class="t v" transform="translate(1378,690) rotate(-90)" textLength="105" lengthAdjust="spacingAndGlyphs">блок Б-2</text>
</g>

<g id="note">
<text class="t" x="1106" y="822" style="font-size:25px" textLength="155" lengthAdjust="spacingAndGlyphs">Примечание</text>
<path class="ln" d="M1088,829 L1113,829 M1131,827 L1267,827" style="stroke-width:2.4"/>
<text class="t" y="862" style="font-size:22px"><tspan x="1010">Начало</tspan><tspan x="1106">и</tspan><tspan x="1135">окончание</tspan><tspan x="1268">сетевого</tspan></text>
<text class="t" y="892" style="font-size:22px"><tspan x="980">графика</tspan><tspan x="1101">см.</tspan><tspan x="1140">на</tspan><tspan x="1187">листах</tspan><tspan x="1284">№№</tspan><tspan x="1346">65,67.</tspan></text>
</g>

<g id="title-block">
<path class="frame" d="M1033,963 H1545 M1033,963 V1083 M1033,1001 H1460 M1460,963 V1083 M1405,1001 V1083 M1460,1037 H1545"/>
<path class="ln" d="M1038,1026 H1396" style="stroke-width:2.4"/>
<text class="t" x="1135" y="994" style="font-size:28px" textLength="133" lengthAdjust="spacingAndGlyphs">Подъемка</text>
<text class="t" x="1286" y="994" style="font-size:28px" textLength="66" lengthAdjust="spacingAndGlyphs">пути</text>
<text class="t" x="1040" y="1021" style="font-size:15px" textLength="355" lengthAdjust="spacingAndGlyphs">Подъемка пролетных строений на времен. опорах</text>
<text class="t" x="1041" y="1042" style="font-size:12px" textLength="345" lengthAdjust="spacingAndGlyphs">Примеры организации работ по подъемке</text>
<text class="t" x="1038" y="1055.5" style="font-size:12px" textLength="320" lengthAdjust="spacingAndGlyphs">пути на мостах. Сетевой график</text>
<text class="t" x="1038" y="1069" style="font-size:12px" textLength="304" lengthAdjust="spacingAndGlyphs">работ в окно Пб-1 (продолжение).</text>
<text class="t" x="1407" y="1024" style="font-size:10px" textLength="50" lengthAdjust="spacingAndGlyphs">МАСШТАБ</text>
<text class="t" x="1430" y="1052" style="font-size:18px;text-anchor:middle">—</text>
<text class="t" x="1469" y="1003" style="font-size:18px" textLength="64" lengthAdjust="spacingAndGlyphs">Лист N</text>
<text class="t" x="1502" y="1030" style="font-size:29px;text-anchor:middle">66</text>
<text class="t" x="1464" y="1063" style="font-size:19px" textLength="65" lengthAdjust="spacingAndGlyphs">501-0-51</text>
</g>
</g>
</svg>
